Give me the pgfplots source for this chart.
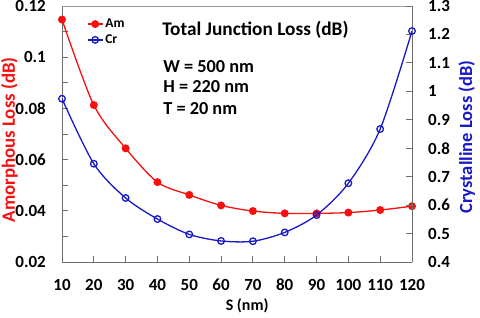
\documentclass[border=0pt]{standalone}
\usepackage{pgfplots}
\pgfplotsset{compat=1.18}
\usepackage{fontspec}
\setmainfont{Carlito}
\definecolor{amred}{RGB}{250,15,15}
\definecolor{crblue}{RGB}{25,25,200}
\definecolor{axgray}{RGB}{110,110,110}
\begin{document}
\begin{tikzpicture}[font=\fontsize{17}{20}\selectfont\bfseries]
\pgfplotsset{
  /pgfplots/legend image code/.code={%
    \draw[mark repeat=2,mark phase=2,#1] plot coordinates {(0pt,0pt) (7.5pt,0pt) (15pt,0pt)};}
}
\begin{axis}[
  at={(0pt,0pt)}, anchor=south west,
  scale only axis, width=350pt, height=256pt,
  xmin=10, xmax=120, ymin=0.02, ymax=0.12,
  xtick={10,20,30,40,50,60,70,80,90,100,110,120},
  ytick={0.02,0.04,0.06,0.08,0.1,0.12},
  minor ytick={0.03,0.05,0.07,0.09,0.11},
  tick align=inside, major tick length=6pt, minor tick length=6pt,
  axis x line*=bottom, axis y line*=left,
  axis line style={axgray, line width=0.9pt},
  tick style={axgray, line width=0.9pt},
  /pgf/number format/assume math mode=true,
  yticklabel style={/pgf/number format/fixed, /pgf/number format/precision=2,
    anchor=east, inner sep=0pt, xshift=-16pt},
  xticklabel style={anchor=base, inner sep=0pt, yshift=-29pt},
  xlabel={S (nm)},
  xlabel style={font=\fontsize{16}{19}\selectfont\bfseries, at={(rel axis cs:0.529,0)}, anchor=center, yshift=-44pt},
  ylabel={Amorphous Loss (dB)},
  ylabel style={text=amred, font=\fontsize{18.8}{22}\selectfont\bfseries,
    at={(rel axis cs:-0.150,0.477)}, anchor=center},
  legend style={draw=none, fill=none, at={(rel axis cs:0.071,0.958)}, anchor=north west,
    font=\fontsize{13.5}{16}\selectfont\bfseries, row sep=1.5pt, inner sep=0pt,
    nodes={inner sep=2pt}},
  legend cell align=left,
]
\addplot[amred, line width=1.3pt, smooth, mark=*, mark size=3.3pt, mark options={fill=amred}]
coordinates {(10,0.1147) (20,0.0813) (30,0.0644) (40,0.0512) (50,0.0462) (60,0.0421)
 (70,0.0399) (80,0.0390) (90,0.0390) (100,0.0393) (110,0.0403) (120,0.0418)};
\addlegendentry{Am}
\addlegendimage{crblue, line width=1.3pt, mark=o, mark size=3.3pt, mark options={fill=white, line width=1.3pt}}
\addlegendentry{Cr}
\draw[axgray!70, line width=0.9pt] (rel axis cs:0,1) -- (rel axis cs:1,1);
\node[anchor=west, inner sep=0pt, font=\fontsize{19.3}{22}\selectfont\bfseries] at (rel axis cs:0.286,0.906) {Total Junction Loss (dB)};
\node[anchor=west, inner sep=0pt, font=\fontsize{18.3}{21}\selectfont\bfseries] at (rel axis cs:0.289,0.765) {W = 500 nm};
\node[anchor=west, inner sep=0pt, font=\fontsize{18.3}{21}\selectfont\bfseries] at (rel axis cs:0.289,0.687) {H = 220 nm};
\node[anchor=west, inner sep=0pt, font=\fontsize{18.3}{21}\selectfont\bfseries] at (rel axis cs:0.289,0.601) {T = 20 nm};
\end{axis}
\begin{axis}[
  at={(0pt,0pt)}, anchor=south west,
  scale only axis, width=350pt, height=256pt,
  xmin=10, xmax=120, ymin=0.4, ymax=1.3,
  axis x line=none, axis y line*=right,
  ytick={0.4,0.5,0.6,0.7,0.8,0.9,1,1.1,1.2,1.3},
  tick align=inside, major tick length=6pt,
  axis line style={axgray, line width=0.9pt},
  tick style={axgray, line width=0.9pt},
  /pgf/number format/assume math mode=true,
  yticklabel style={/pgf/number format/fixed, /pgf/number format/precision=1,
    anchor=west, inner sep=0pt, xshift=16pt},
  ylabel={Crystalline Loss (dB)},
  ylabel style={text=crblue, font=\fontsize{18.5}{21}\selectfont\bfseries,
    at={(rel axis cs:1.156,0.488)}, anchor=center},
]
\addplot[crblue, line width=1.3pt, smooth, mark=o, mark size=3.3pt, mark options={fill=white, line width=1.3pt}]
coordinates {(10,0.974) (20,0.7455) (30,0.625) (40,0.551) (50,0.497) (60,0.474)
 (70,0.473) (80,0.504) (90,0.565) (100,0.677) (110,0.8675) (120,1.212)};
\end{axis}
\pgfresetboundingbox
\path (-62pt,-56pt) rectangle (418pt,262pt);
\end{tikzpicture}
\end{document}
